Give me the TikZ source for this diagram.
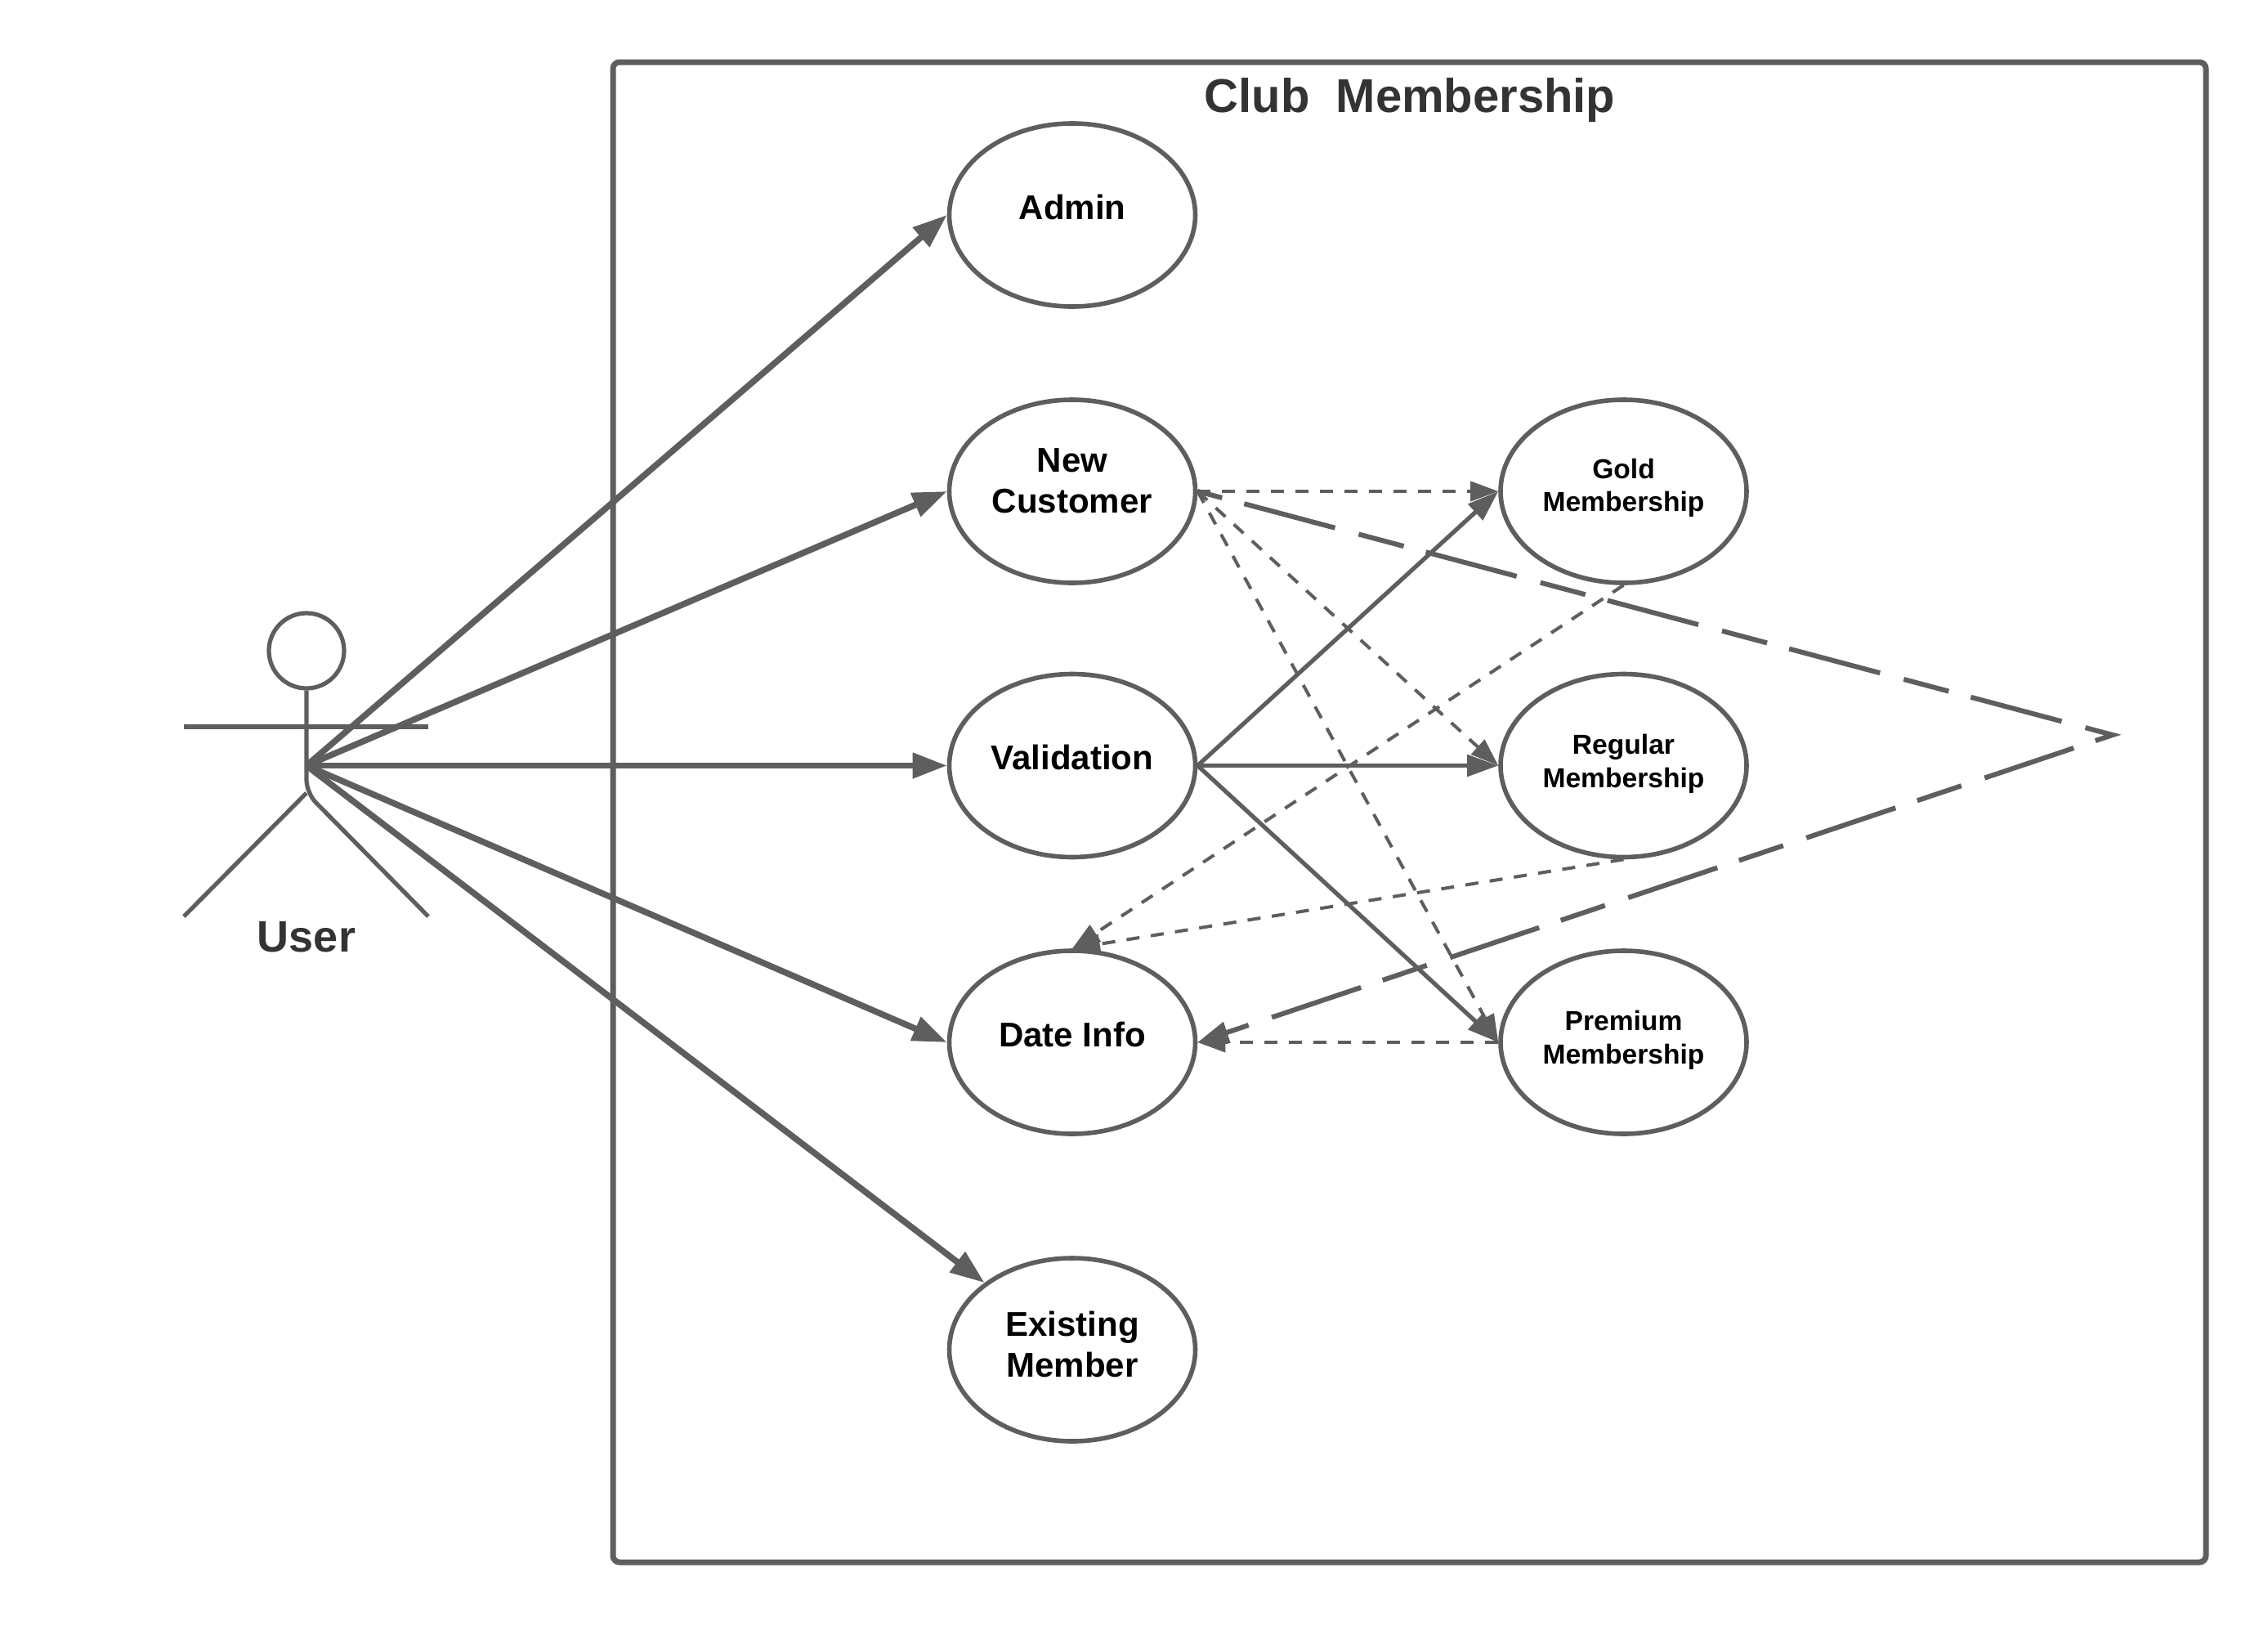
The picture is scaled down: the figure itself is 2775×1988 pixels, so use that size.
\documentclass[tikz,border=0pt]{standalone}
\usepackage{fontspec}
\setmainfont{Liberation Sans}
\usetikzlibrary{arrows.meta,shapes.geometric}
\definecolor{ln}{HTML}{5E5E5E}
\definecolor{dk}{HTML}{333333}
\tikzset{
  uc/.style={ellipse,draw=ln,line width=2.8pt,fill=white,inner sep=0pt,minimum width=150.5pt,minimum height=112pt},
  big/.style={font=\bfseries\fontsize{21}{25}\selectfont,text=black,align=center,inner sep=0pt},
  small/.style={font=\bfseries\fontsize{16.8}{20.4}\selectfont,text=black,align=center,inner sep=0pt},
  boxframe/.style={draw=ln,line width=3.5pt,rounded corners=4pt,inner sep=0pt,outer sep=0pt,minimum width=974.5pt,minimum height=917.5pt},
  actorline/.style={draw=ln,line width=2.6pt},
  assoc/.style={draw=ln,line width=3.8pt,-{Triangle[length=21pt,width=15pt]}},
  flow/.style={draw=ln,line width=2.6pt,-{Triangle[length=19pt,width=13pt]}},
  dep/.style={draw=ln,line width=2pt,-{Triangle[length=17pt,width=12pt]},dash pattern=on 8pt off 7pt},
  longdash/.style={draw=ln,line width=3pt,-{Triangle[length=19pt,width=13pt]},miter limit=20,dash pattern=on 57.5pt off 15pt on 28.5pt off 14pt,dash phase=85.5pt}
}
\begin{document}
\begin{tikzpicture}[x=0.5pt,y=-0.5pt]
\useasboundingbox (0,0) rectangle (2775,1988);
\node[boxframe] (frame) at (1724.5,993.5) {};
\node[font=\bfseries\fontsize{29}{34}\selectfont,text=dk,inner sep=0pt] (title) at (1725,122) {Club\ \ Membership};
% use cases
\node[uc,label={[big,yshift=4.9pt]center:Admin}] (admin) at (1312,263) {};
\node[uc,label={[big,yshift=6.5pt]center:New\\Customer}] (nc) at (1312,601) {};
\node[uc,label={[big,yshift=4.9pt]center:Validation}] (val) at (1312,936.5) {};
\node[uc,label={[big,yshift=4.9pt]center:Date Info}] (date) at (1312,1275) {};
\node[uc,label={[big,yshift=3.1pt]center:Existing\\Member}] (exist) at (1312,1651) {};
\node[uc,label={[small,yshift=2.1pt]center:Gold\\Membership}] (gold) at (1986.5,601) {};
\node[uc,label={[small,yshift=1.2pt]center:Regular\\Membership}] (reg) at (1986.5,936.5) {};
\node[uc,label={[small,yshift=1.2pt]center:Premium\\Membership}] (prem) at (1986.5,1275) {};
% actor
\node[circle,draw=ln,line width=2.6pt,inner sep=0pt,minimum size=46pt] (head) at (375,796) {};
\coordinate (crotch) at (375,970);
\coordinate (lhand) at (225,889);
\coordinate (rhand) at (524,889);
\coordinate (lfoot) at (225,1121);
\coordinate (rfoot) at (524,1121);
\coordinate (hub) at (375,936.5);
\draw[actorline,rounded corners=8pt] (head.south) -- (crotch) -- (rfoot);
\draw[actorline] (crotch) -- (lfoot);
\draw[actorline] (lhand) -- (rhand);
\node[font=\bfseries\fontsize{27}{30}\selectfont,text=dk,inner sep=0pt] (user) at (375,1146) {User};
% associations
\draw[assoc] (hub) -- (admin.west);
\draw[assoc] (hub) -- (nc.west);
\draw[assoc] (hub) -- (val.west);
\draw[assoc] (hub) -- (date.west);
\draw[assoc] (hub) -- (exist);
% validation flows
\draw[flow] (val.east) -- (gold.west);
\draw[flow] (val.east) -- (reg.west);
\draw[flow] (val.east) -- (prem.west);
% dashed dependencies
\draw[dep] (nc.east) -- (gold.west);
\draw[dep] (nc.east) -- (reg.west);
\draw[dep] (nc.east) -- (prem.west);
\draw[dep] (gold.south) -- (date.north);
\draw[dep] (reg.south) -- (date.north);
\draw[dep] (prem.west) -- (date.east);
% long dash through apex
\coordinate (apex) at (2585,899);
\draw[longdash] (nc.east) -- (apex) -- (date.east);
\end{tikzpicture}
\end{document}
